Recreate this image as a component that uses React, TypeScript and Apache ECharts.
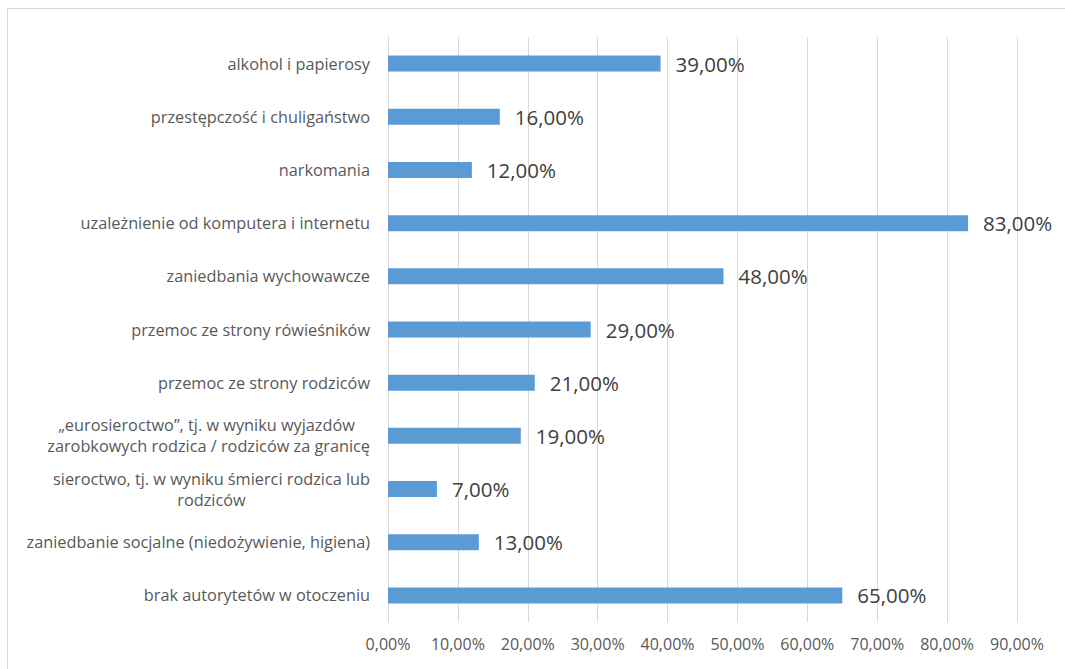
import React, { useEffect, useRef } from "react";
import * as echarts from "echarts";

const categories: string[] = [
  "alkohol i papierosy",
  "przestępczość i chuligaństwo",
  "narkomania",
  "uzależnienie od komputera i internetu",
  "zaniedbania wychowawcze",
  "przemoc ze strony rówieśników",
  "przemoc ze strony rodziców",
  "„eurosieroctwo”, tj. w wyniku wyjazdów \nzarobkowych rodzica / rodziców za granicę",
  "sieroctwo, tj. w wyniku śmierci rodzica lub\nrodziców",
  "zaniedbanie socjalne (niedożywienie, higiena)",
  "brak autorytetów w otoczeniu",
];

const values: number[] = [39, 16, 12, 83, 48, 29, 21, 19, 7, 13, 65];

const axisTicks: number[] = [0, 10, 20, 30, 40, 50, 60, 70, 80, 90];

const fmt = (v: number) => v.toFixed(2).replace(".", ",") + "%";

const FONT = "'Open Sans', Lato, sans-serif";

export default function App() {
  const ref = useRef<HTMLDivElement>(null);
  useEffect(() => {
    if (!ref.current) return;
    const chart = echarts.init(ref.current, undefined, { renderer: "svg" });
    chart.setOption({
      animation: false,
      backgroundColor: "#ffffff",
      textStyle: { fontFamily: FONT },
      graphic: [
        {
          type: "line",
          shape: { x1: 7.5, y1: 8, x2: 7.5, y2: 669 },
          style: { stroke: "#d9d9d9", lineWidth: 1 },
        },
        {
          type: "line",
          shape: { x1: 7, y1: 8.5, x2: 1065, y2: 8.5 },
          style: { stroke: "#d9d9d9", lineWidth: 1 },
        },
      ],
      grid: { left: 388, right: 48, top: 37, bottom: 47, containLabel: false },
      xAxis: {
        type: "value",
        min: axisTicks[0],
        max: axisTicks[axisTicks.length - 1],
        interval: axisTicks[1] - axisTicks[0],
        axisLine: { show: false },
        axisTick: { show: false },
        splitLine: { lineStyle: { color: "#d9d9d9", width: 1 } },
        axisLabel: {
          formatter: (v: number) => fmt(v),
          color: "#595959",
          fontSize: 16,
          margin: 14,
          fontFamily: FONT,
        },
      },
      yAxis: {
        type: "category",
        inverse: true,
        data: categories,
        axisLine: { show: true, lineStyle: { color: "#d9d9d9", width: 1 } },
        axisTick: { show: false },
        axisLabel: {
          margin: 18,
          color: "#595959",
          fontSize: 16.3,
          fontFamily: FONT,
          lineHeight: 21,
          formatter: (v: string) =>
            v
              .split("\n")
              .map((l) => "{c|" + l + "}")
              .join("\n"),
          rich: {
            c: {
              align: "center",
              color: "#595959",
              fontSize: 16.3,
              fontFamily: FONT,
              lineHeight: 21,
            },
          },
        },
      },
      series: [
        {
          type: "bar",
          data: values,
          barWidth: 16,
          itemStyle: { color: "#5b9bd5" },
          label: {
            show: true,
            position: "right",
            distance: 15,
            color: "#404040",
            fontSize: 20.5,
            fontFamily: FONT,
            formatter: (p: any) => fmt(p.value),
          },
        },
      ],
    });
    return () => chart.dispose();
  }, []);
  return (
    <div
      ref={ref}
      style={{ position: "fixed", left: 0, top: 0, width: 1065, height: 669 }}
    />
  );
}
